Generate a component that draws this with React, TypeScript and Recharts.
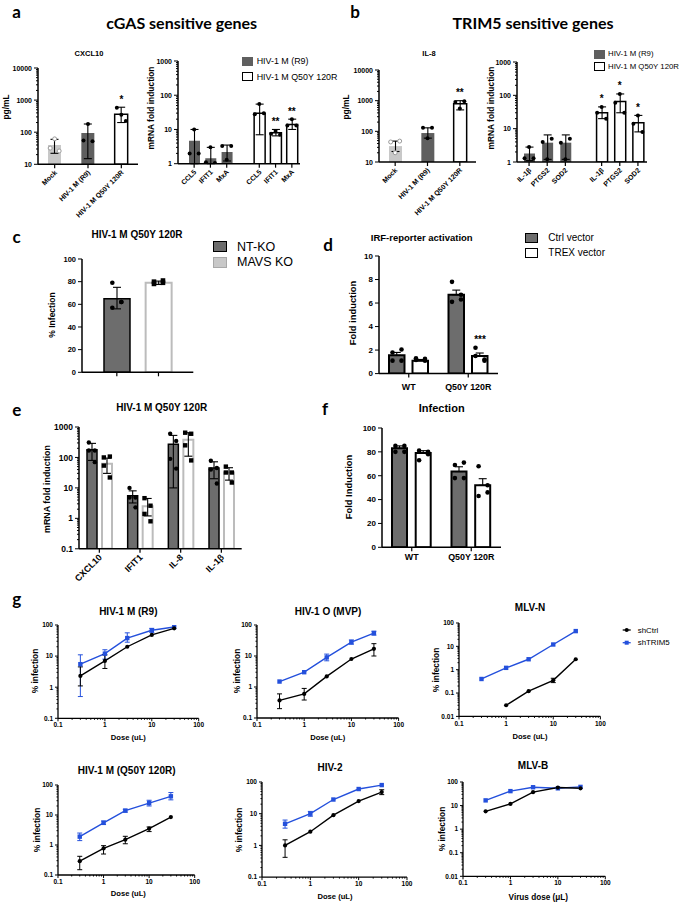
import React from "react";
import { ComposedChart, Bar, Cell, Line, Scatter, ErrorBar, XAxis, YAxis } from "recharts";

const SANS = "'Liberation Sans', Arial, Helvetica, sans-serif";
const HEAD = "Lato, 'Open Sans', sans-serif";
const DARK = "#5f5f5f";
const GREY = "#6d6d6d";
const LIGHT = "#c8c8c8";
const PALE = "#bcbcbc";
const BLUE = "#2450dc";
const AXIS = { stroke: "#000", strokeWidth: 1.5 };
const AXIS_G = { stroke: "#000", strokeWidth: 1.3 };

// ---------- a: cGAS sensitive genes ----------
const virusSeries = ["HIV-1 M (R9)", "HIV-1 M Q50Y 120R"];
const cxclCats = ["Mock", "HIV-1 M (R9)", "HIV-1 M Q50Y 120R"];
const cxclMean = [40, 95, 360];
const cxclLow = [22, 15, 200];
const cxclHigh = [60, 180, 600];
const cxclReps = [[62, 32, 26], [180, 55, 52], [350, 580, 225]];
const cxclSig = ["", "", "*"];

const cgasGenes = ["CCL5", "IFIT1", "MxA", "", "CCL5", "IFIT1", "MxA"];
const cgasMean = [4.7, 1.45, 2.2, null, 30, 8, 14];
const cgasLow = [1, 1, 1.2, null, 7, 6.5, 10];
const cgasHigh = [10, 3, 3.5, null, 55, 10, 20];
const cgasReps = [[10, 2, 2], [3, 1.1, 1.05], [1.3, 3.3, 3.3], [], [55, 28, 30], [9, 7.5, 7], [20, 13, 13]];
const cgasSig = ["", "", "", "", "", "**", "**"];

// ---------- b: TRIM5 sensitive genes ----------
const il8Cats = ["Mock", "HIV-1 M (R9)", "HIV-1 M Q50Y 120R"];
const il8Mean = [33, 88, 800];
const il8Low = [22, 60, 500];
const il8High = [48, 130, 1000];
const il8Reps = [[20, 45, 48], [60, 130, 130], [560, 900, 950]];
const il8Sig = ["", "", "**"];

const trimGenes = ["IL-1β", "PTGS2", "SOD2", "", "IL-1β", "PTGS2", "SOD2"];
const trimMean = [1.8, 3.8, 3.8, null, 30, 65, 15];
const trimLow = [1.1, 1.2, 1.2, null, 20, 30, 8];
const trimHigh = [2.8, 6.5, 6.5, null, 45, 110, 25];
const trimReps = [[2.8, 1.3, 1.3], [1.2, 4, 5], [1.2, 3.8, 5], [], [45, 30, 20], [110, 60, 30], [25, 14, 8]];
const trimSig = ["", "", "", "", "*", "*", "*"];

// ---------- c: MAVS KO ----------
const koSeries = ["NT-KO", "MAVS KO"];
const cMean = [65, 79];
const cLow = [56, 77.5];
const cHigh = [75, 80.5];
const cReps = [[79, 62, 57, 62], [80, 81, 78, 79]];

// ---------- d: IRF reporter ----------
const vectorSeries = ["Ctrl vector", "TREX vector"];
const dGroups = ["WT", "Q50Y 120R"];
const dCtrlMean = [1.55, 6.7];
const dCtrlHigh = [1.8, 7.1];
const dCtrlReps = [[1.8, 2.05, 1.1, 1.1], [7.8, 6.7, 6.1, 6.3]];
const dTrexMean = [1.1, 1.5];
const dTrexHigh = [1.2, 1.75];
const dTrexReps = [[1.3, 1.25, 1.15, 1.1], [2.2, 1.2, 1.5, 1.1]];
const dTrexSig = ["", "***"];

// ---------- e: mRNA in KO cells ----------
const eGenes = ["CXCL10", "IFIT1", "IL-8", "IL-1β"];
const eNtMean = [180, 5.5, 270, 45];
const eNtLow = [80, 3.2, 10, 20];
const eNtHigh = [290, 8, 530, 72];
const eNtReps = [[310, 170, 170, 70], [10, 4.8, 4.8, 2.3], [600, 350, 90, 43], [78, 45, 40, 14]];
const eMavsMean = [62, 2.5, 380, 32];
const eMavsLow = [30, 1.2, 110, 18];
const eMavsHigh = [95, 4.5, 650, 46];
const eMavsReps = [[100, 107, 54, 22], [4.6, 2.6, 1.4, 0.8], [650, 600, 250, 80], [50, 32, 32, 15]];

// ---------- f: infection ----------
const fGroups = ["WT", "Q50Y 120R"];
const fCtrlMean = [83, 63.5];
const fCtrlHigh = [85, 67.5];
const fCtrlReps = [[85, 85, 80, 80], [69, 71, 58, 58]];
const fTrexMean = [79, 52];
const fTrexHigh = [81, 57.5];
const fTrexReps = [[81, 80, 73, 78], [68, 52, 43, 46]];

// ---------- g: dose response ----------
const doses = [0.3, 1, 3, 10, 30];
const gSeries = ["shCtrl", "shTRIM5"];
const noErr = [null, null, null, null, null];

const r9Ctrl = [2.3, 7, 20, 48, 78];
const r9CtrlLow = [1.1, 4, null, null, null];
const r9CtrlHigh = [4.5, 11, null, null, null];
const r9Trim = [5.5, 12, 38, 68, 86];
const r9TrimLow = [0.5, 8, 28, 58, null];
const r9TrimHigh = [11, 16, 56, 78, null];

const mvpCtrl = [0.37, 0.6, 2.2, 8, 17];
const mvpCtrlLow = [0.2, 0.38, null, null, 10];
const mvpCtrlHigh = [0.6, 0.9, null, null, 25];
const mvpTrim = [1.5, 3, 9, 28, 55];
const mvpTrimLow = [null, null, 7, 24, 47];
const mvpTrimHigh = [null, null, 11.5, 33, 63];

const mlvnCtrl = [null, 0.03, 0.12, 0.35, 2.8];
const mlvnCtrlLow = [null, null, null, 0.28, null];
const mlvnCtrlHigh = [null, null, null, 0.43, null];
const mlvnTrim = [0.4, 1.2, 2.8, 12, 45];

const qCtrl = [0.29, 0.77, 1.5, 3.5, 8.5];
const qCtrlLow = [0.15, 0.5, 1.1, 2.8, null];
const qCtrlHigh = [0.42, 0.95, 1.95, 4, null];
const qTrim = [1.9, 5.5, 14, 25, 42];
const qTrimLow = [1.4, 4.8, 12.5, 20, 32];
const qTrimHigh = [2.5, 6.3, 15.5, 31, 56];

const h2Ctrl = [1, 2.7, 9, 25, 48];
const h2CtrlLow = [0.42, null, null, null, 40];
const h2CtrlHigh = [1.5, null, null, null, 57];
const h2Trim = [4.8, 10, 28, 60, 80];
const h2TrimLow = [3.5, 8.3, null, null, null];
const h2TrimHigh = [6.3, 11.8, null, null, null];

const mlvbCtrl = [5.7, 11.7, 37, 58, 54];
const mlvbTrim = [16.6, 41, 60, 54, 62];

// ---------- helpers ----------
type Row = { [k: string]: any };
type Num = number | null;

function logTicks(min: number, max: number): number[] {
  const out: number[] = [];
  for (let d = min; d <= max * 1.0001; d *= 10) {
    const base = Number(d.toPrecision(1));
    out.push(base);
    if (base * 10 <= max * 1.0001) {
      for (let k = 2; k <= 9; k++) out.push(Number((k * base).toPrecision(2)));
    }
  }
  return out;
}

function barRows(cats: string[], mean: Num[], low: Num[], high: Num[], reps: number[][], sig: string[], style: (i: number) => Row): Row[] {
  return cats.map((name, i) => {
    const v = mean[i];
    if (v == null) return { name };
    const row: Row = {
      name,
      value: v,
      err: [v - (low[i] ?? v), (high[i] ?? v) - v],
      sig: sig[i],
      top: Math.max(high[i] ?? v, ...reps[i]),
      ...style(i),
    };
    reps[i].forEach((r, k) => (row[`r${k}`] = r));
    return row;
  });
}

type Series = { mean: number[]; low?: number[]; high: number[]; reps: number[][]; sig?: string[] };

function pairRows(groups: string[], a: Series, b: Series): Row[] {
  return groups.map((name, i) => {
    const row: Row = { name };
    const parts: [string, Series][] = [["a", a], ["b", b]];
    parts.forEach(([k, s]) => {
      const v = s.mean[i];
      row[k] = v;
      row[`${k}Err`] = [v - (s.low?.[i] ?? v), (s.high[i] ?? v) - v];
      row[`${k}Top`] = Math.max(s.high[i] ?? v, ...s.reps[i]);
      row[`${k}Sig`] = s.sig?.[i] ?? "";
      s.reps[i].forEach((r, j) => (row[`${k}${j}`] = r));
    });
    return row;
  });
}

function errPair(v: Num, lo: Num, hi: Num) {
  if (v == null || (lo == null && hi == null)) return undefined;
  return [v - (lo ?? v), (hi ?? v) - v];
}

function doseRows(ctrl: Num[], ctrlLow: Num[], ctrlHigh: Num[], trim: Num[], trimLow: Num[], trimHigh: Num[]): Row[] {
  return doses.map((dose, i) => ({
    dose,
    ctrl: ctrl[i] ?? undefined,
    ctrlErr: errPair(ctrl[i], ctrlLow[i], ctrlHigh[i]),
    trim: trim[i] ?? undefined,
    trimErr: errPair(trim[i], trimLow[i], trimHigh[i]),
  }));
}

const yTick = (majors: number[], fs: number, big = 4, small = 2) => (p: any) => {
  const v = p.payload?.value;
  const major = majors.includes(v);
  const len = major ? big : small;
  return (
    <g>
      <line x1={p.x - len} x2={p.x} y1={p.y} y2={p.y} stroke="#000" strokeWidth={1} />
      {major && (
        <text x={p.x - len - 2} y={p.y} dy="0.36em" textAnchor="end" fontSize={fs} fontWeight={700} fontFamily={SANS} fill="#000">
          {String(v)}
        </text>
      )}
    </g>
  );
};

const catTick = (fs: number, angle: number, show: boolean, gap = 3) => (p: any) => {
  const name = p.payload?.value;
  if (name === "" || name == null) return <g />;
  const ty = p.y + 4 + gap;
  return (
    <g>
      <line x1={p.x} x2={p.x} y1={p.y} y2={p.y + 4} stroke="#000" strokeWidth={1.2} />
      {show &&
        (angle ? (
          <text x={p.x + 1} y={ty} dy="0.35em" textAnchor="end" transform={`rotate(${angle}, ${p.x + 1}, ${ty})`} fontSize={fs} fontWeight={700} fontFamily={SANS} fill="#000">
            {name}
          </text>
        ) : (
          <text x={p.x} y={ty} dy="0.8em" textAnchor="middle" fontSize={fs} fontWeight={700} fontFamily={SANS} fill="#000">
            {name}
          </text>
        ))}
    </g>
  );
};

const xLogTick = (majors: number[], fs: number) => (p: any) => {
  const v = p.payload?.value;
  const major = majors.includes(v);
  const len = major ? 3 : 1.5;
  return (
    <g>
      <line x1={p.x} x2={p.x} y1={p.y} y2={p.y + len} stroke="#000" strokeWidth={1} />
      {major && (
        <text x={p.x} y={p.y + 4} dy="0.8em" textAnchor="middle" fontSize={fs} fontWeight={700} fontFamily={SANS} fill="#000">
          {String(v)}
        </text>
      )}
    </g>
  );
};

const dot = (dx: number, r: number, fixed?: string) => (p: any) => {
  const { cx, cy } = p;
  if (!Number.isFinite(cx) || !Number.isFinite(cy)) return <g />;
  const kind = fixed ?? p.payload?.kind ?? "fill";
  const x = cx + dx;
  if (kind === "square") return <rect x={x - r} y={cy - r} width={2 * r} height={2 * r} fill="#000" />;
  if (kind === "open") return <circle cx={x} cy={cy} r={r} fill="#fff" stroke="#9a9a9a" strokeWidth={1} />;
  return <circle cx={x} cy={cy} r={r} fill="#000" />;
};

const star = (dx: number, key = "sig") => (p: any) => {
  const s = p.payload?.[key];
  if (!s || !Number.isFinite(p.cx) || !Number.isFinite(p.cy)) return <g />;
  return (
    <text x={p.cx + dx} y={p.cy - 4.5} textAnchor="middle" fontSize={10} fontWeight={700} fontFamily={SANS} fill="#000">
      {s}
    </text>
  );
};

type FlatProps = {
  rows: Row[];
  plot: number[];
  domain: number[];
  ticks: number[];
  majors: number[];
  log?: boolean;
  barSize: number;
  offsets: number[];
  dotR: number;
  tickFs: number;
  catFs: number;
  angle?: number;
  padL?: number;
  padR?: number;
  labels?: boolean;
  yw?: number;
  xh?: number;
};

function FlatBars(p: FlatProps) {
  const yw = p.yw ?? 34;
  const xh = p.xh ?? 60;
  const top = 14;
  const right = 8;
  const [px, py, pw, ph] = p.plot;
  return (
    <div style={{ position: "absolute", left: px - yw, top: py - top }}>
      <ComposedChart width={yw + pw + right} height={top + ph + xh} data={p.rows} margin={{ top, right, left: 0, bottom: 0 }} barSize={p.barSize}>
        <XAxis dataKey="name" height={xh} interval={0} tickSize={0} tickMargin={0} tickLine={false} axisLine={AXIS} padding={{ left: p.padL ?? 0, right: p.padR ?? 0 }} tick={catTick(p.catFs, p.angle ?? 0, p.labels !== false)} />
        <YAxis width={yw} type="number" scale={p.log ? "log" : "linear"} domain={p.domain} allowDataOverflow ticks={p.ticks} interval={0} tickSize={0} tickMargin={0} tickLine={false} axisLine={AXIS} tick={yTick(p.majors, p.tickFs)} />
        <Bar dataKey="value" isAnimationActive={false}>
          {p.rows.map((r, i) => (
            <Cell key={i} fill={r.fill} stroke={r.stroke} strokeWidth={r.sw} />
          ))}
          <ErrorBar dataKey="err" width={4} stroke="#000" strokeWidth={1.1} direction="y" />
        </Bar>
        {p.offsets.map((dx, k) => (
          <Scatter key={k} dataKey={`r${k}`} isAnimationActive={false} shape={dot(dx, p.dotR)} />
        ))}
        <Scatter dataKey="top" isAnimationActive={false} shape={star(0)} />
      </ComposedChart>
    </div>
  );
}

type BarStyle = { fill: string; stroke: string; sw: number };
type PairProps = {
  rows: Row[];
  plot: number[];
  domain: number[];
  ticks: number[];
  majors: number[];
  log?: boolean;
  barSize: number;
  barGap: number;
  offsets: number[];
  dotR: number;
  tickFs: number;
  catFs: number;
  angle?: number;
  gap?: number;
  aStyle: BarStyle;
  bStyle: BarStyle;
  aKind: string;
  bKind: string;
  yw?: number;
  xh?: number;
};

function PairBars(p: PairProps) {
  const yw = p.yw ?? 30;
  const xh = p.xh ?? 30;
  const top = 14;
  const right = 8;
  const [px, py, pw, ph] = p.plot;
  const half = (p.barSize + p.barGap) / 2;
  const series: [string, BarStyle, string, number][] = [
    ["a", p.aStyle, p.aKind, -half],
    ["b", p.bStyle, p.bKind, half],
  ];
  return (
    <div style={{ position: "absolute", left: px - yw, top: py - top }}>
      <ComposedChart width={yw + pw + right} height={top + ph + xh} data={p.rows} margin={{ top, right, left: 0, bottom: 0 }} barSize={p.barSize} barGap={p.barGap}>
        <XAxis dataKey="name" height={xh} interval={0} tickSize={0} tickMargin={0} tickLine={false} axisLine={AXIS} tick={catTick(p.catFs, p.angle ?? 0, true, p.gap ?? 3)} />
        <YAxis width={yw} type="number" scale={p.log ? "log" : "linear"} domain={p.domain} allowDataOverflow ticks={p.ticks} interval={0} tickSize={0} tickMargin={0} tickLine={false} axisLine={AXIS} tick={yTick(p.majors, p.tickFs)} />
        {series.map(([k, st]) => (
          <Bar key={k} dataKey={k} fill={st.fill} stroke={st.stroke} strokeWidth={st.sw} isAnimationActive={false}>
            <ErrorBar dataKey={`${k}Err`} width={4} stroke="#000" strokeWidth={1.1} direction="y" />
          </Bar>
        ))}
        {series.map(([k, , kind, shift]) =>
          p.offsets.map((dx, j) => (
            <Scatter key={`${k}${j}`} dataKey={`${k}${j}`} isAnimationActive={false} shape={dot(shift + dx, p.dotR, kind)} />
          ))
        )}
        {series.map(([k, , , shift]) => (
          <Scatter key={`${k}s`} dataKey={`${k}Top`} isAnimationActive={false} shape={star(shift, `${k}Sig`)} />
        ))}
      </ComposedChart>
    </div>
  );
}

const lineDot = (kind: string, color: string) => (p: any) => {
  const { cx, cy, index } = p;
  if (!Number.isFinite(cx) || !Number.isFinite(cy)) return <g key={`d${index}`} />;
  if (kind === "square") return <rect key={`d${index}`} x={cx - 2.2} y={cy - 2.2} width={4.4} height={4.4} fill={color} />;
  return <circle key={`d${index}`} cx={cx} cy={cy} r={2.1} fill={color} />;
};

const doseTicks = logTicks(0.1, 100);
const doseMajors = [0.1, 1, 10, 100];

function DosePanel({ plot, rows, ymin, majorsY }: { plot: number[]; rows: Row[]; ymin: number; majorsY: number[] }) {
  const yw = 26;
  const xh = 20;
  const top = 6;
  const right = 8;
  const [px, py, pw, ph] = plot;
  return (
    <div style={{ position: "absolute", left: px - yw, top: py - top }}>
      <ComposedChart width={yw + pw + right} height={top + ph + xh} data={rows} margin={{ top, right, left: 0, bottom: 0 }}>
        <XAxis dataKey="dose" type="number" scale="log" domain={[0.1, 100]} allowDataOverflow ticks={doseTicks} interval={0} tickSize={0} tickMargin={0} tickLine={false} axisLine={AXIS_G} tick={xLogTick(doseMajors, 6.5)} height={xh} />
        <YAxis width={yw} type="number" scale="log" domain={[ymin, 100]} allowDataOverflow ticks={logTicks(ymin, 100)} interval={0} tickSize={0} tickMargin={0} tickLine={false} axisLine={AXIS_G} tick={yTick(majorsY, 6.5, 3, 1.5)} />
        <Line dataKey="trim" stroke={BLUE} strokeWidth={1.4} dot={lineDot("square", BLUE)} activeDot={false} isAnimationActive={false} connectNulls>
          <ErrorBar dataKey="trimErr" width={2.5} stroke={BLUE} strokeWidth={1} direction="y" />
        </Line>
        <Line dataKey="ctrl" stroke="#000" strokeWidth={1.4} dot={lineDot("circle", "#000")} activeDot={false} isAnimationActive={false} connectNulls>
          <ErrorBar dataKey="ctrlErr" width={2.5} stroke="#000" strokeWidth={1} direction="y" />
        </Line>
      </ComposedChart>
    </div>
  );
}

function Txt({ x, y, size, children, bold = true, rot = false, font = SANS, left = false }: { x: number; y: number; size: number; children: React.ReactNode; bold?: boolean; rot?: boolean; font?: string; left?: boolean }) {
  const t = left ? "translate(0, -50%)" : "translate(-50%, -50%)";
  return (
    <div style={{ position: "absolute", left: x, top: y, fontSize: size, fontWeight: bold ? 700 : 400, fontFamily: font, whiteSpace: "nowrap", lineHeight: 1.15, color: "#000", transform: rot ? `${t} rotate(-90deg)` : t }}>
      {children}
    </div>
  );
}

function Swatch({ x, y, w, h, fill, border }: { x: number; y: number; w: number; h: number; fill: string; border: string }) {
  return <div style={{ position: "absolute", left: x, top: y - h / 2, width: w, height: h, boxSizing: "border-box", background: fill, border: `1.5px solid ${border}` }} />;
}

// ---------- tables ----------
const cxclStyle = [
  { fill: LIGHT, stroke: "none", sw: 0, kind: "open" },
  { fill: DARK, stroke: "none", sw: 0, kind: "fill" },
  { fill: "#fff", stroke: "#000", sw: 1.5, kind: "fill" },
];
const geneStyle = (i: number) => (i < 3 ? { fill: DARK, stroke: "none", sw: 0 } : { fill: "#fff", stroke: "#000", sw: 1.5 });
const koStyle = [
  { fill: GREY, stroke: "#000", sw: 1.5, kind: "fill" },
  { fill: "#fff", stroke: PALE, sw: 2, kind: "square" },
];

const cxclRows = barRows(cxclCats, cxclMean, cxclLow, cxclHigh, cxclReps, cxclSig, (i) => cxclStyle[i]);
const cgasRows = barRows(cgasGenes, cgasMean, cgasLow, cgasHigh, cgasReps, cgasSig, geneStyle);
const il8Rows = barRows(il8Cats, il8Mean, il8Low, il8High, il8Reps, il8Sig, (i) => cxclStyle[i]);
const trimRows = barRows(trimGenes, trimMean, trimLow, trimHigh, trimReps, trimSig, geneStyle);
const koRows = barRows(koSeries, cMean, cLow, cHigh, cReps, ["", ""], (i) => koStyle[i]);
const dRows = pairRows(dGroups, { mean: dCtrlMean, high: dCtrlHigh, reps: dCtrlReps }, { mean: dTrexMean, high: dTrexHigh, reps: dTrexReps, sig: dTrexSig });
const eRows = pairRows(eGenes, { mean: eNtMean, low: eNtLow, high: eNtHigh, reps: eNtReps }, { mean: eMavsMean, low: eMavsLow, high: eMavsHigh, reps: eMavsReps });
const fRows = pairRows(fGroups, { mean: fCtrlMean, high: fCtrlHigh, reps: fCtrlReps }, { mean: fTrexMean, high: fTrexHigh, reps: fTrexReps });

const three = [0, -4.5, 4.5];
const four = [-4.5, 4.5, -4.5, 4.5];

export default function App() {
  return (
    <div style={{ position: "absolute", left: 0, top: 0, width: 682, height: 904, background: "#fff", overflow: "hidden", fontFamily: SANS }}>
      {/* panel letters and headings */}
      <Txt x={16.7} y={12} size={17} font={HEAD}>a</Txt>
      <Txt x={355} y={12} size={17} font={HEAD}>b</Txt>
      <Txt x={16.7} y={237} size={17} font={HEAD}>c</Txt>
      <Txt x={328} y={245} size={17} font={HEAD}>d</Txt>
      <Txt x={16.7} y={410} size={17} font={HEAD}>e</Txt>
      <Txt x={325} y={409} size={17} font={HEAD}>f</Txt>
      <Txt x={16.7} y={599} size={17} font={HEAD}>g</Txt>
      <Txt x={181.7} y={23} size={16} font={HEAD}>cGAS sensitive genes</Txt>
      <Txt x={533} y={23} size={16} font={HEAD}>TRIM5 sensitive genes</Txt>

      {/* a */}
      <Txt x={89} y={54} size={7.5}>CXCL10</Txt>
      <Txt x={7} y={107} size={8.4} rot>pg/mL</Txt>
      <FlatBars rows={cxclRows} plot={[38.3, 67.7, 100, 96.3]} domain={[10, 10000]} ticks={logTicks(10, 10000)} majors={[10, 100, 1000, 10000]} log barSize={13} offsets={three} dotR={2} tickFs={7} catFs={7} angle={-45} />
      <Txt x={151.7} y={108} size={8.4} rot>mRNA fold induction</Txt>
      <FlatBars rows={cgasRows} plot={[177.7, 61.3, 122, 102.7]} domain={[1, 1000]} ticks={logTicks(1, 1000)} majors={[1, 10, 100, 1000]} log barSize={11} padL={8} offsets={three} dotR={2} tickFs={7} catFs={7} angle={-45} />
      <Swatch x={241.7} y={61} w={11.6} h={9} fill={DARK} border={DARK} />
      <Swatch x={241.7} y={76.7} w={11.6} h={9} fill="#fff" border="#000" />
      <Txt x={256.7} y={61} size={8.9} bold={false} left>{virusSeries[0]}</Txt>
      <Txt x={256.7} y={76.7} size={8.9} bold={false} left>{virusSeries[1]}</Txt>

      {/* b */}
      <Txt x={429} y={54} size={7.5}>IL-8</Txt>
      <Txt x={347.3} y={107} size={8.4} rot>pg/mL</Txt>
      <FlatBars rows={il8Rows} plot={[379, 70, 97, 92]} domain={[10, 10000]} ticks={logTicks(10, 10000)} majors={[10, 100, 1000, 10000]} log barSize={13} offsets={three} dotR={2} tickFs={7} catFs={7} angle={-45} />
      <Txt x={491.7} y={108} size={8.4} rot>mRNA fold induction</Txt>
      <FlatBars rows={trimRows} plot={[517.3, 61.7, 130, 100]} domain={[1, 1000]} ticks={logTicks(1, 1000)} majors={[1, 10, 100, 1000]} log barSize={11} padL={3} offsets={three} dotR={2} tickFs={7} catFs={7} angle={-45} />
      <Swatch x={594} y={54} w={11} h={9} fill={DARK} border={DARK} />
      <Swatch x={594} y={66.7} w={11} h={9} fill="#fff" border="#000" />
      <Txt x={608} y={54} size={7.8} bold={false} left>{virusSeries[0]}</Txt>
      <Txt x={608} y={66.7} size={7.8} bold={false} left>{virusSeries[1]}</Txt>

      {/* c */}
      <Txt x={137} y={235} size={10}>HIV-1 M Q50Y 120R</Txt>
      <Swatch x={213} y={246.7} w={14} h={11} fill={GREY} border="#000" />
      <Swatch x={213} y={262} w={14} h={11} fill={LIGHT} border="#a8a8a8" />
      <Txt x={237} y={246.7} size={12.5} bold={false} left>{koSeries[0]}</Txt>
      <Txt x={237} y={262} size={12.5} bold={false} left>{koSeries[1]}</Txt>
      <Txt x={53.3} y={315} size={8.5} rot>% Infection</Txt>
      <FlatBars rows={koRows} plot={[82, 259, 111.3, 113.3]} domain={[0, 100]} ticks={[0, 20, 40, 60, 80, 100]} majors={[0, 20, 40, 60, 80, 100]} barSize={26} padL={14} padR={14} offsets={four} dotR={2.3} tickFs={7.5} catFs={8} labels={false} xh={20} />

      {/* d */}
      <Txt x={421.7} y={238} size={9.5}>IRF-reporter activation</Txt>
      <Swatch x={525} y={238} w={13} h={10} fill={GREY} border="#000" />
      <Swatch x={525} y={253} w={13} h={10} fill="#fff" border="#000" />
      <Txt x={548.3} y={238} size={10} bold={false} left>{vectorSeries[0]}</Txt>
      <Txt x={548.3} y={253} size={10} bold={false} left>{vectorSeries[1]}</Txt>
      <Txt x={352.7} y={313} size={9.4} rot>Fold induction</Txt>
      <PairBars rows={dRows} plot={[379.3, 255.7, 119, 117.6]} domain={[0, 10]} ticks={[0, 2, 4, 6, 8, 10]} majors={[0, 2, 4, 6, 8, 10]} barSize={15.5} barGap={8} offsets={four} dotR={2.3} tickFs={8} catFs={8.9} gap={5.5} aStyle={{ fill: GREY, stroke: "#000", sw: 2 }} bStyle={{ fill: "#fff", stroke: "#000", sw: 2 }} aKind="fill" bKind="fill" />

      {/* e */}
      <Txt x={161.7} y={407.7} size={10}>HIV-1 M Q50Y 120R</Txt>
      <Txt x={46.7} y={489} size={8.9} rot>mRNA fold induction</Txt>
      <PairBars rows={eRows} plot={[79, 426.5, 162.7, 121.8]} domain={[0.1, 1000]} ticks={logTicks(0.1, 1000)} majors={[0.1, 1, 10, 100, 1000]} log barSize={10} barGap={5} offsets={[-3, 3, -3, 3]} dotR={2.2} tickFs={8.5} catFs={8.9} angle={-45} aStyle={{ fill: GREY, stroke: "#000", sw: 1.5 }} bStyle={{ fill: "#fff", stroke: PALE, sw: 2 }} aKind="fill" bKind="square" xh={60} yw={34} />

      {/* f */}
      <Txt x={441.7} y={408.3} size={11}>Infection</Txt>
      <Txt x={349.3} y={486.7} size={9.4} rot>Fold Induction</Txt>
      <PairBars rows={fRows} plot={[381.7, 428, 119, 119.3]} domain={[0, 100]} ticks={[0, 20, 40, 60, 80, 100]} majors={[0, 20, 40, 60, 80, 100]} barSize={15} barGap={8.7} offsets={four} dotR={2.3} tickFs={8} catFs={8.9} gap={2} aStyle={{ fill: GREY, stroke: "#000", sw: 2 }} bStyle={{ fill: "#fff", stroke: "#000", sw: 2 }} aKind="fill" bKind="fill" />

      {/* g row 1 */}
      <Txt x={128.3} y={611.7} size={10}>HIV-1 M (R9)</Txt>
      <Txt x={328} y={611.7} size={10}>HIV-1 O (MVP)</Txt>
      <Txt x={530} y={608.3} size={10}>MLV-N</Txt>
      <Txt x={36} y={671} size={8.4} rot>% infection</Txt>
      <Txt x={238} y={671} size={8.4} rot>% infection</Txt>
      <Txt x={437} y={670} size={8.4} rot>% infection</Txt>
      <DosePanel plot={[58.3, 625, 140.7, 93.3]} rows={doseRows(r9Ctrl, r9CtrlLow, r9CtrlHigh, r9Trim, r9TrimLow, r9TrimHigh)} ymin={0.1} majorsY={[0.1, 1, 10, 100]} />
      <DosePanel plot={[256.7, 625, 141.6, 93]} rows={doseRows(mvpCtrl, mvpCtrlLow, mvpCtrlHigh, mvpTrim, mvpTrimLow, mvpTrimHigh)} ymin={0.1} majorsY={[0.1, 1, 10, 100]} />
      <DosePanel plot={[459.3, 623.3, 141.4, 93.4]} rows={doseRows(mlvnCtrl, mlvnCtrlLow, mlvnCtrlHigh, mlvnTrim, noErr, noErr)} ymin={0.01} majorsY={[0.01, 0.1, 1, 10, 100]} />
      <Txt x={128.3} y={738.3} size={7.6}>Dose (uL)</Txt>
      <Txt x={327.7} y={738} size={7.6}>Dose (uL)</Txt>
      <Txt x={530} y={736.7} size={7.6}>Dose (uL)</Txt>

      <svg style={{ position: "absolute", left: 618, top: 622 }} width={62} height={28}>
        <line x1={4.7} x2={12.7} y1={8} y2={8} stroke="#000" strokeWidth={1.3} />
        <circle cx={8.7} cy={8} r={2} fill="#000" />
        <text x={19.7} y={8} dy="0.35em" fontSize={7.9} fontFamily={SANS} fill="#000">{gSeries[0]}</text>
        <line x1={4.7} x2={12.7} y1={20.7} y2={20.7} stroke={BLUE} strokeWidth={1.3} />
        <rect x={6.7} y={18.7} width={4} height={4} fill={BLUE} />
        <text x={19.7} y={20.7} dy="0.35em" fontSize={7.9} fontFamily={SANS} fill="#000">{gSeries[1]}</text>
      </svg>

      {/* g row 2 */}
      <Txt x={126.7} y={771} size={10}>HIV-1 M (Q50Y 120R)</Txt>
      <Txt x={330} y={768.3} size={10}>HIV-2</Txt>
      <Txt x={533} y={766} size={10}>MLV-B</Txt>
      <Txt x={38} y={830} size={8.4} rot>% infection</Txt>
      <Txt x={240} y={830} size={8.4} rot>% infection</Txt>
      <Txt x={443} y={829} size={8.4} rot>% infection</Txt>
      <DosePanel plot={[58.3, 785, 136.7, 90]} rows={doseRows(qCtrl, qCtrlLow, qCtrlHigh, qTrim, qTrimLow, qTrimHigh)} ymin={0.1} majorsY={[0.1, 1, 10, 100]} />
      <DosePanel plot={[261.7, 781.6, 145, 95.1]} rows={doseRows(h2Ctrl, h2CtrlLow, h2CtrlHigh, h2Trim, h2TrimLow, h2TrimHigh)} ymin={0.1} majorsY={[0.1, 1, 10, 100]} />
      <DosePanel plot={[462.7, 781.7, 142.3, 94.3]} rows={doseRows(mlvbCtrl, noErr, noErr, mlvbTrim, noErr, noErr)} ymin={0.01} majorsY={[0.01, 0.1, 1, 10, 100]} />
      <Txt x={128.3} y={894.3} size={7.6}>Dose (uL)</Txt>
      <Txt x={335} y={896.5} size={7.6}>Dose (uL)</Txt>
      <Txt x={538.3} y={897.5} size={8.2}>Virus dose (μL)</Txt>
    </div>
  );
}
